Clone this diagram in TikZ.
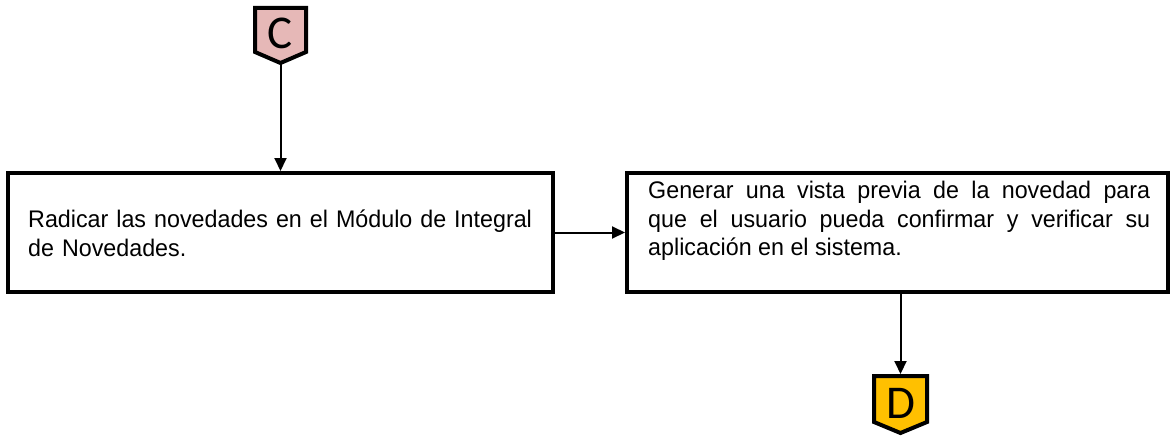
\documentclass[tikz,border=0pt]{standalone}
\usepackage{fontspec}
\setmainfont[FakeStretch=0.97]{Liberation Sans}
\newfontfamily\lettfont{Carlito}
\usetikzlibrary{arrows.meta}
\definecolor{cpink}{HTML}{E6B8B7}
\definecolor{dgold}{HTML}{FFC000}
\hyphenpenalty=10000
\exhyphenpenalty=10000
\begin{document}
\begin{tikzpicture}[x=1pt,y=-1pt,
  stepbox/.style={draw,line width=4pt,minimum width=545pt,minimum height=119pt,inner sep=0pt},
  txt/.style={font=\fontsize{24}{28.6}\selectfont,inner sep=0pt},
  conn/.style={line width=2pt,-{Triangle[length=13pt,width=12pt]}},
  pent/.style={line width=4pt,line join=miter},
  lett/.style={font=\lettfont\fontsize{47}{47}\selectfont,inner sep=0pt}
]
\useasboundingbox (0,0) rectangle (1175,436);
% boxes
\node[stepbox] (b1) at (280.5,232.5) {};
\node[stepbox,minimum width=541pt] (b2) at (897.5,232.5) {};
\node[txt,text width=520pt,align=left,anchor=west] (t1) at (28,233)
  {Radicar las novedades en el Módulo de Integral\\de Novedades.};
\node[txt,text width=502pt,align=justify,anchor=north west] (t2) at (648,181)
  {Generar una vista previa de la novedad para\linebreak
   que el usuario pueda confirmar y verificar su\linebreak
   aplicación en el sistema.};
% off-page connector C
\draw[pent,fill=cpink] (255,8) -- (306,8) -- (306,52) -- (280.5,63) -- (255,52) -- cycle;
\node[lett] (C) at (280.5,33) {C};
\coordinate (Ctip) at (280.5,64);
% off-page connector D
\draw[pent,fill=dgold] (874,376) -- (927,376) -- (927,422) -- (900.5,433) -- (874,422) -- cycle;
\node[lett] (D) at (900.5,403) {D};
\coordinate (Dtop) at (900.5,374);
% connectors
\draw[conn] (Ctip) -- (b1.north);
\draw[conn] (b1.east) -- (b2.west);
\draw[conn] (b2.south -| Dtop) -- (Dtop);
\end{tikzpicture}
\end{document}
